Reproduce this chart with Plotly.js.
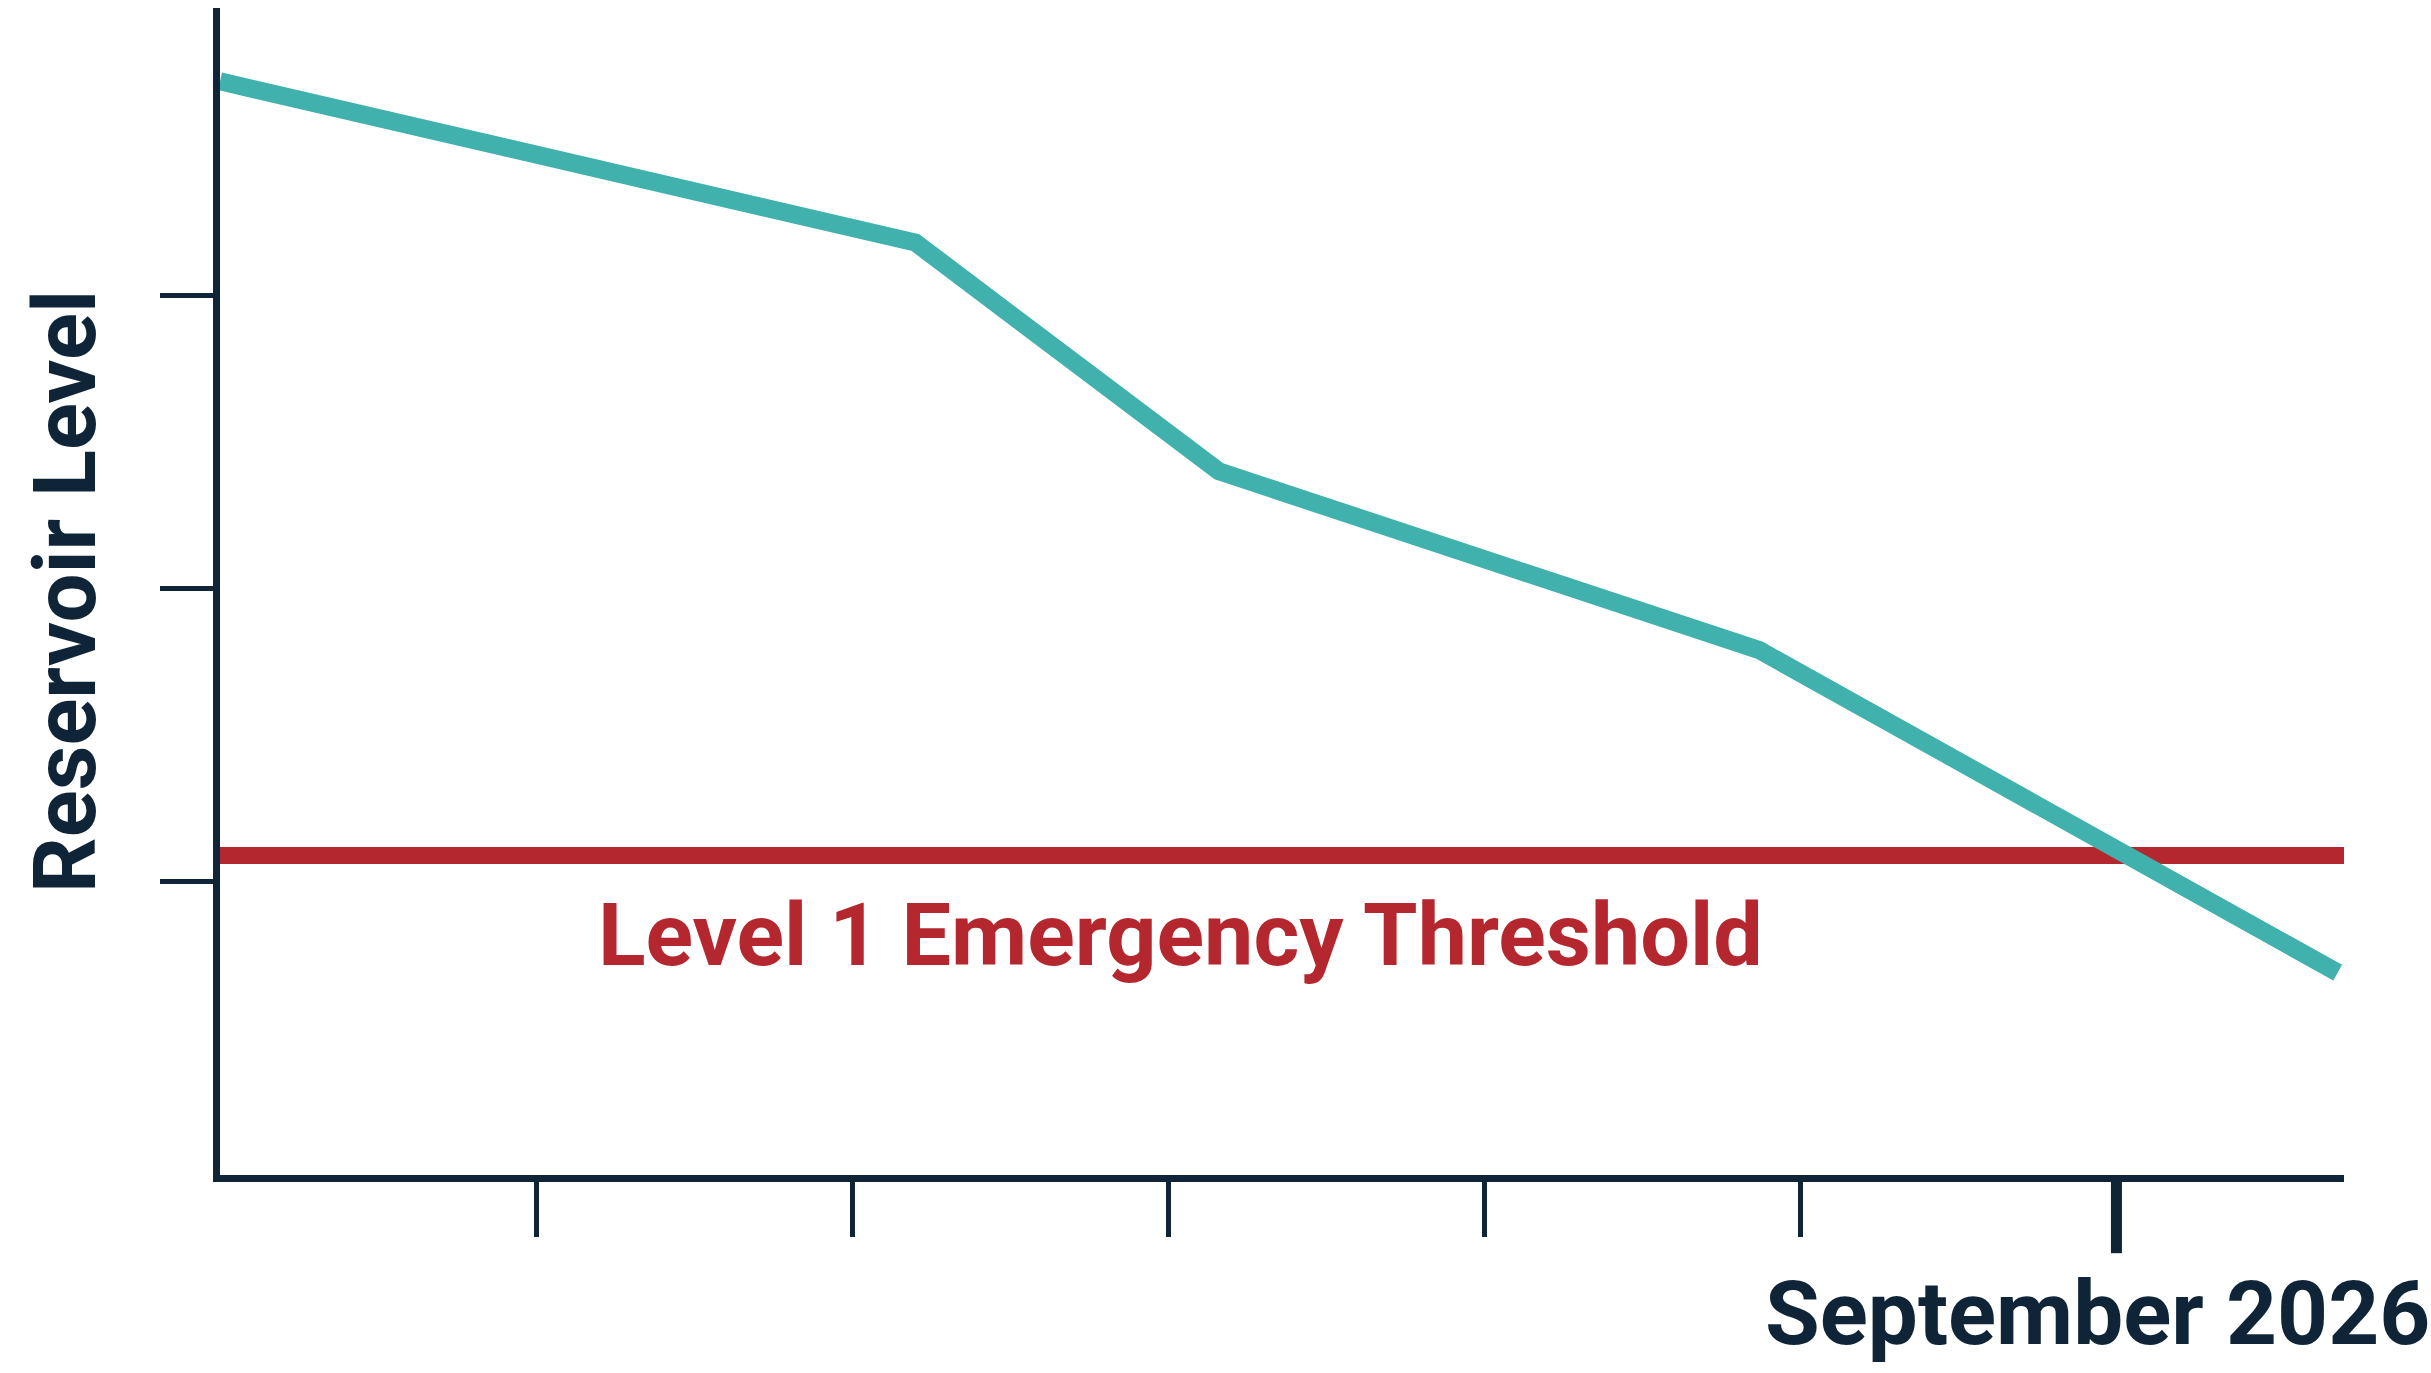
<!DOCTYPE html>
<html>
<head>
<meta charset="utf-8">
<script src="https://cdn.plot.ly/plotly-3.0.1.min.js"></script>
<style>
  html, body { margin: 0; padding: 0; background: #ffffff; }
  #chart { width: 2431px; height: 1373px; }
</style>
</head>
<body>
<div id="chart"></div>
<script>
// ---- data ----
const monthIndex = [0, 2.2, 3.16, 4.87, 6.7];
const reservoirLevel = [3.73, 3.18, 2.40, 1.79, 0.69];
const thresholdLevel = 1.09;
const thresholdLabel = "Level 1 Emergency Threshold";
const xTickVals = [1, 2, 3, 4, 5, 6];
const yTickVals = [1, 2, 3];
const markedMonth = 6;
const markedMonthLabel = "September 2026";
const yTitle = "Reservoir Level";
const xRange = [0, 6.72];
const yRange = [0, 3.98];

const navy = "#0f2537";
const teal = "#40b1ac";
const red = "#b5272e";
const fontFam = "Roboto, 'DejaVu Sans Condensed', sans-serif";

const traces = [
  {
    x: [xRange[0], xRange[1]],
    y: [thresholdLevel, thresholdLevel],
    mode: "lines",
    line: { color: red, width: 17 },
    hoverinfo: "skip",
    showlegend: false,
    cliponaxis: false
  },
  {
    x: monthIndex,
    y: reservoirLevel,
    mode: "lines",
    line: { color: teal, width: 18 },
    showlegend: false,
    cliponaxis: false
  }
];

const layout = {
  width: 2431,
  height: 1373,
  paper_bgcolor: "#ffffff",
  plot_bgcolor: "#ffffff",
  margin: { l: 220, r: 87, t: 8, b: 198 },
  showlegend: false,
  xaxis: {
    range: xRange,
    showgrid: false,
    zeroline: false,
    showline: true,
    linecolor: navy,
    linewidth: 7,
    tickmode: "array",
    tickvals: xTickVals,
    ticks: "outside",
    ticklen: 55,
    tickwidth: 5,
    tickcolor: navy,
    showticklabels: false
  },
  yaxis: {
    range: yRange,
    showgrid: false,
    zeroline: false,
    showline: true,
    linecolor: navy,
    linewidth: 7,
    tickmode: "array",
    tickvals: yTickVals,
    ticks: "outside",
    ticklen: 53,
    tickwidth: 5,
    tickcolor: navy,
    showticklabels: false,
    title: {
      text: yTitle,
      font: { family: fontFam, size: 87, color: navy, weight: "bold" },
      standoff: 38
    }
  },
  shapes: [
    {
      type: "line",
      xref: "x", yref: "paper",
      x0: markedMonth, x1: markedMonth,
      y0: 0, y1: -0.067,
      line: { color: navy, width: 11 }
    }
  ],
  annotations: [
    {
      xref: "x", yref: "y",
      x: 3.04, y: 0.82,
      text: "<b>" + thresholdLabel + "</b>",
      showarrow: false,
      xanchor: "center", yanchor: "middle",
      font: { family: fontFam, size: 88, color: red }
    },
    {
      xref: "x", yref: "paper",
      x: markedMonth, y: -0.119,
      xshift: -19,
      text: "<b>" + markedMonthLabel + "</b>",
      showarrow: false,
      xanchor: "center", yanchor: "middle",
      font: { family: fontFam, size: 89, color: navy }
    }
  ]
};

Plotly.newPlot("chart", traces, layout, { displayModeBar: false, staticPlot: true });
</script>
</body>
</html>
